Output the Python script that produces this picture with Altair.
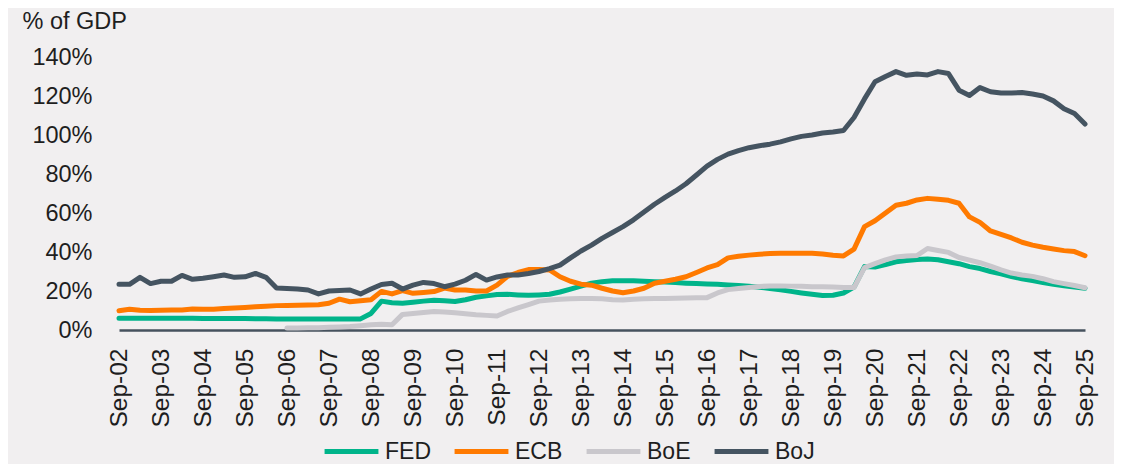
import altair as alt
import pandas as pd

# Quarter labels Sep-02 ... Sep-25
months = ["Mar", "Jun", "Sep", "Dec"]
quarters = []
for yr in range(2002, 2026):
    for m in months:
        if (yr == 2002 and m in ("Mar", "Jun")) or (yr == 2025 and m == "Dec"):
            continue
        quarters.append(f"{m}-{yr % 100:02d}")
sep_labels = [q for q in quarters if q.startswith("Sep")]

fed = [6.0, 6.0, 6.0, 6.0, 6.0, 6.0, 6.0, 6.0, 5.9, 5.9, 5.9, 5.9, 5.9, 5.8, 5.8, 5.7,
       5.7, 5.6, 5.6, 5.6, 5.6, 5.6, 5.6, 5.7, 8.5, 14.8, 14.0, 13.7, 14.2, 14.8, 15.3, 15.0,
       14.6, 15.5, 16.8, 17.5, 18.2, 18.3, 18.0, 17.8, 18.0, 18.3, 19.5, 21.0, 22.5, 24.0,
       24.8, 25.2, 25.3, 25.2, 25.0, 24.8, 24.6, 24.3, 24.0, 23.8, 23.6, 23.4, 23.1, 22.8,
       22.4, 21.9, 21.3, 20.6, 19.8, 19.0, 18.3, 17.7, 17.8, 19.0, 22.0, 32.5, 32.3, 33.5,
       35.0, 35.6, 36.2, 36.4, 36.0, 35.0, 34.0, 32.5, 31.5, 30.0, 28.8, 27.4, 26.3, 25.3,
       24.3, 23.4, 22.7, 22.0, 21.4]
ecb = [9.9, 10.6, 10.1, 10.0, 10.1, 10.2, 10.3, 10.8, 10.7, 10.6, 11.0, 11.3, 11.6, 11.9,
       12.2, 12.5, 12.6, 12.7, 12.8, 13.0, 13.7, 15.8, 14.5, 15.0, 15.5, 19.8, 18.5, 20.2,
       18.8, 19.2, 19.7, 21.5, 20.5, 20.5, 20.0, 20.0, 23.0, 27.5, 29.5, 31.0, 31.0, 30.8,
       27.3, 25.0, 23.5, 23.0, 21.4, 20.0, 19.1, 20.0, 21.4, 24.0, 25.0, 26.0, 27.3, 29.5,
       31.8, 33.5, 37.0, 37.8, 38.4, 38.9, 39.2, 39.3, 39.3, 39.3, 39.3, 39.0, 38.3, 38.0,
       41.5, 53.0, 56.0, 60.0, 64.0, 65.0, 66.7, 67.5, 67.0, 66.5, 65.0, 58.0, 55.2, 50.8,
       49.0, 47.2, 45.0, 43.5, 42.4, 41.5, 40.7, 40.2, 38.1]
boe = [None] * 16 + [
       1.0, 1.0, 1.1, 1.2, 1.4, 1.6, 1.8, 2.2, 2.7, 2.9, 2.7, 8.0, 8.5, 9.0, 9.5, 9.2, 8.8,
       8.3, 7.8, 7.5, 7.2, 9.5, 11.3, 13.0, 14.8, 15.4, 15.8, 16.0, 16.2, 16.2, 16.0, 15.5,
       15.4, 15.8, 16.0, 16.2, 16.2, 16.3, 16.4, 16.5, 16.6, 19.0, 20.7, 21.3, 21.8, 22.3,
       22.6, 22.6, 22.5, 22.4, 22.2, 22.2, 22.0, 21.8, 21.8, 32.0, 34.0, 36.0, 37.5, 38.0,
       38.2, 41.8, 40.8, 39.8, 37.2, 35.8, 34.5, 32.8, 30.8, 29.2, 28.2, 27.5, 26.3, 24.8,
       23.8, 22.8, 21.7]
boj = [23.4, 23.4, 27.0, 23.8, 25.0, 25.0, 28.0, 26.0, 26.5, 27.3, 28.2, 27.0, 27.3, 29.0,
       27.0, 21.5, 21.3, 21.0, 20.5, 18.5, 20.0, 20.3, 20.5, 18.5, 21.0, 23.3, 24.0, 21.0,
       23.0, 24.4, 23.8, 22.2, 23.5, 25.5, 28.5, 25.6, 27.2, 28.2, 28.2, 29.0, 30.0, 31.5,
       33.3, 37.0, 40.5, 43.5, 47.0, 50.0, 53.0, 56.5, 60.5, 64.5, 68.0, 71.3, 75.0, 79.5,
       84.0, 87.5, 90.2, 92.0, 93.5, 94.5, 95.3, 96.5, 98.0, 99.3, 100.0, 101.0, 101.5,
       102.3, 109.0, 118.5, 127.3, 130.0, 132.5, 130.6, 131.3, 130.8, 132.5, 131.5, 123.0,
       120.3, 124.3, 122.2, 121.5, 121.5, 121.8, 121.0, 120.0, 117.5, 113.5, 111.0, 105.6]

series_names = ["FED", "ECB", "BoE", "BoJ"]
series_colors = ["#00b48a", "#ff7a00", "#c9c7cc", "#455461"]

rows = []
for name, vals in zip(series_names, [fed, ecb, boe, boj]):
    for q, v in zip(quarters, vals):
        if v is not None:
            rows.append({"quarter": q, "series": name, "value": v / 100.0})
df = pd.DataFrame(rows)

FONT = "Liberation Sans"
TXT = "#1e1e1e"

chart = alt.Chart(df).mark_line(strokeWidth=5, strokeCap="round", strokeJoin="round").encode(
    x=alt.X("quarter:O", sort=quarters,
            scale=alt.Scale(type="point", padding=0),
            axis=alt.Axis(values=sep_labels, title=None, labelAngle=-90, ticks=False,
                          tickSize=0, labelPadding=18, labelFontSize=24.5, labelFont=FONT,
                          labelColor=TXT, domainColor="#46525e", domainWidth=2.5,
                          grid=False)),
    y=alt.Y("value:Q",
            scale=alt.Scale(domain=[0, 1.4], nice=False),
            axis=alt.Axis(format=".0%", values=[0, 0.2, 0.4, 0.6, 0.8, 1.0, 1.2, 1.4],
                          title="% of GDP", titleAngle=0, titleAlign="left",
                          titleBaseline="alphabetic", titleX=-97, titleY=-29,
                          titleFontSize=23.5, titleFont=FONT, titleFontWeight="normal",
                          titleColor=TXT, labelFontSize=23.5, labelFont=FONT, labelColor=TXT,
                          ticks=False, tickSize=0, labelPadding=27, domain=False,
                          grid=False)),
    color=alt.Color("series:N",
                    scale=alt.Scale(domain=series_names, range=series_colors),
                    legend=alt.Legend(orient="none", legendX=203, legendY=365,
                                      direction="horizontal", title=None,
                                      symbolType="stroke", symbolSize=2900,
                                      symbolStrokeWidth=5, labelFontSize=23,
                                      labelFont=FONT, labelColor=TXT, labelOffset=4,
                                      columnPadding=13, gridAlign="none")),
).properties(
    width=966,
    height=273,
    background="#f1eff0",
    autosize=alt.AutoSizeParams(type="none"),
    padding={"left": 111, "top": 49, "right": 29, "bottom": 134},
).configure_view(stroke=None)

chart.save("out.html", embed_options={"renderer": "svg", "actions": False})
